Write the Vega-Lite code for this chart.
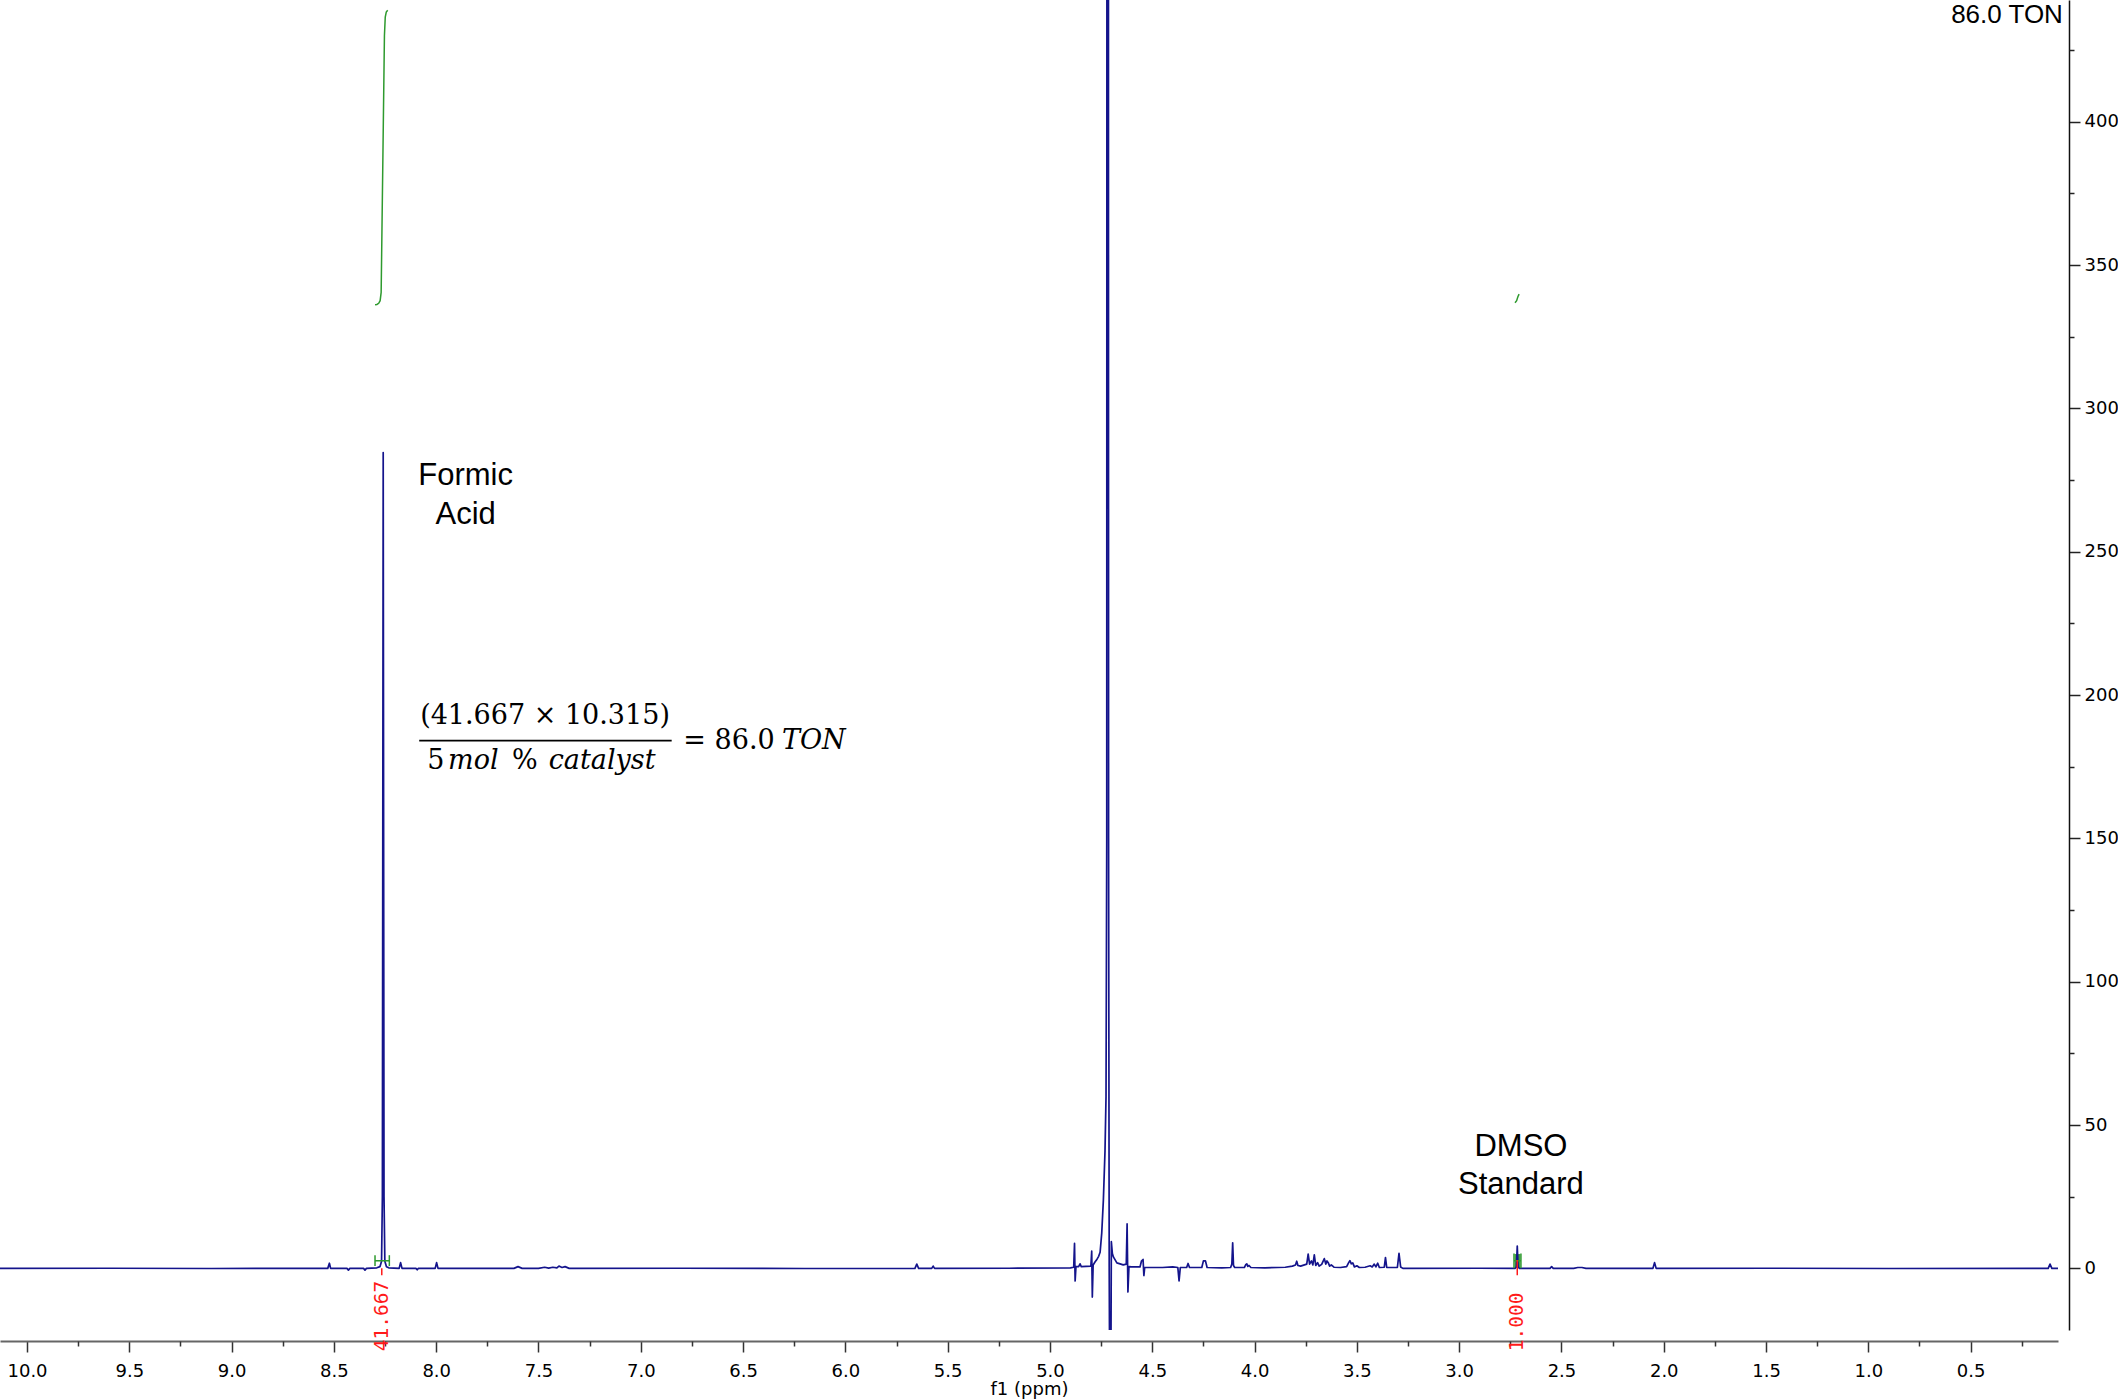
{
  "$schema": "https://vega.github.io/schema/vega-lite/v6.json",
  "width": 2058,
  "height": 1330,
  "autosize": {"type": "none"},
  "padding": {"left": 0, "top": 0, "right": 60, "bottom": 70},
  "background": "white",
  "config": {
    "view": {"stroke": null},
    "axis": {"grid": false, "labelFont": "DejaVu Sans", "labelFontSize": 18, "labelColor": "#000", "labelOverlap": false, "labelFlush": false}
  },
  "datasets": {
    "spectrum": [
      {"ppm": 10.132, "v": 0}, {"ppm": 9.6, "v": 0.05}, {"ppm": 9.1, "v": -0.05}, {"ppm": 8.75, "v": 0},
      {"ppm": 8.53, "v": 0}, {"ppm": 8.522, "v": 1.8}, {"ppm": 8.516, "v": 0},
      {"ppm": 8.436, "v": 0}, {"ppm": 8.429, "v": -0.6}, {"ppm": 8.422, "v": 0},
      {"ppm": 8.355, "v": 0}, {"ppm": 8.348, "v": -0.6}, {"ppm": 8.341, "v": 0},
      {"ppm": 8.29, "v": 0.2}, {"ppm": 8.275, "v": 0.6}, {"ppm": 8.267, "v": 2.5}, {"ppm": 8.263, "v": 25},
      {"ppm": 8.259, "v": 284.6}, {"ppm": 8.255, "v": 25}, {"ppm": 8.251, "v": 2.5}, {"ppm": 8.243, "v": 0.6}, {"ppm": 8.232, "v": 0.2},
      {"ppm": 8.181, "v": 0}, {"ppm": 8.174, "v": 2.0}, {"ppm": 8.167, "v": 0},
      {"ppm": 8.099, "v": 0}, {"ppm": 8.093, "v": -0.5}, {"ppm": 8.087, "v": 0},
      {"ppm": 8.005, "v": 0}, {"ppm": 7.998, "v": 2.0}, {"ppm": 7.991, "v": 0},
      {"ppm": 7.62, "v": 0}, {"ppm": 7.6, "v": 0.6}, {"ppm": 7.58, "v": 0},
      {"ppm": 7.5, "v": 0}, {"ppm": 7.47, "v": 0.4}, {"ppm": 7.45, "v": 0.1}, {"ppm": 7.43, "v": 0.4}, {"ppm": 7.41, "v": 0.2}, {"ppm": 7.4, "v": 0.8}, {"ppm": 7.385, "v": 0.3}, {"ppm": 7.37, "v": 0.6}, {"ppm": 7.35, "v": 0},
      {"ppm": 6.8, "v": 0.05}, {"ppm": 6.2, "v": -0.05},
      {"ppm": 5.66, "v": 0}, {"ppm": 5.651, "v": 1.5}, {"ppm": 5.642, "v": 0},
      {"ppm": 5.578, "v": 0}, {"ppm": 5.571, "v": 0.8}, {"ppm": 5.564, "v": 0},
      {"ppm": 5.2, "v": 0.05}, {"ppm": 4.9, "v": 0.2},
      {"ppm": 4.884, "v": 0.4}, {"ppm": 4.88, "v": 8.7}, {"ppm": 4.877, "v": -4.4}, {"ppm": 4.873, "v": 0.6},
      {"ppm": 4.86, "v": 0.6}, {"ppm": 4.853, "v": 1.6}, {"ppm": 4.847, "v": 0.6},
      {"ppm": 4.8, "v": 0.8}, {"ppm": 4.796, "v": 6.0}, {"ppm": 4.793, "v": -10.0}, {"ppm": 4.789, "v": 1.2},
      {"ppm": 4.78, "v": 2.2}, {"ppm": 4.77, "v": 3.2}, {"ppm": 4.762, "v": 4.2}, {"ppm": 4.755, "v": 5.6},
      {"ppm": 4.747, "v": 12.3}, {"ppm": 4.739, "v": 23.8}, {"ppm": 4.731, "v": 41}, {"ppm": 4.726, "v": 60},
      {"ppm": 4.7225, "v": 150}, {"ppm": 4.7205, "v": 1000}, {"ppm": 4.7155, "v": 1000}, {"ppm": 4.7135, "v": 150},
      {"ppm": 4.7105, "v": 0}, {"ppm": 4.707, "v": -60}, {"ppm": 4.7035, "v": -60},
      {"ppm": 4.7, "v": 9.3}, {"ppm": 4.695, "v": 5.2}, {"ppm": 4.69, "v": 4.0}, {"ppm": 4.673, "v": 1.9},
      {"ppm": 4.642, "v": 1.2}, {"ppm": 4.627, "v": 1.5}, {"ppm": 4.623, "v": 15.5}, {"ppm": 4.619, "v": -8.2}, {"ppm": 4.614, "v": 0.6},
      {"ppm": 4.6, "v": 0.5}, {"ppm": 4.56, "v": 0.5}, {"ppm": 4.553, "v": 2.5}, {"ppm": 4.545, "v": 3.1}, {"ppm": 4.541, "v": -2.5}, {"ppm": 4.537, "v": 0.3},
      {"ppm": 4.45, "v": 0.3}, {"ppm": 4.4, "v": 0.5},
      {"ppm": 4.375, "v": 0.3}, {"ppm": 4.369, "v": -4.4}, {"ppm": 4.363, "v": 0.3},
      {"ppm": 4.332, "v": 0.3}, {"ppm": 4.325, "v": 1.7}, {"ppm": 4.318, "v": 0.3},
      {"ppm": 4.258, "v": 0.3}, {"ppm": 4.25, "v": 2.6}, {"ppm": 4.24, "v": 2.6}, {"ppm": 4.232, "v": 0.3},
      {"ppm": 4.16, "v": 0.2}, {"ppm": 4.117, "v": 0.3}, {"ppm": 4.111, "v": 1.5}, {"ppm": 4.107, "v": 8.9}, {"ppm": 4.103, "v": 1.0}, {"ppm": 4.097, "v": 0.3},
      {"ppm": 4.05, "v": 0.3}, {"ppm": 4.043, "v": 1.3}, {"ppm": 4.038, "v": 1.6}, {"ppm": 4.033, "v": 0.7}, {"ppm": 4.027, "v": 1.0}, {"ppm": 4.018, "v": 0.3},
      {"ppm": 3.95, "v": 0.2}, {"ppm": 3.85, "v": 0.4}, {"ppm": 3.815, "v": 0.8}, {"ppm": 3.8, "v": 1.2}, {"ppm": 3.794, "v": 2.5}, {"ppm": 3.788, "v": 1.0},
      {"ppm": 3.775, "v": 0.8}, {"ppm": 3.745, "v": 1.5}, {"ppm": 3.738, "v": 5.0}, {"ppm": 3.731, "v": 1.5}, {"ppm": 3.722, "v": 2.6}, {"ppm": 3.715, "v": 1.2},
      {"ppm": 3.708, "v": 4.7}, {"ppm": 3.701, "v": 1.0}, {"ppm": 3.692, "v": 2.0}, {"ppm": 3.684, "v": 0.8}, {"ppm": 3.672, "v": 1.4}, {"ppm": 3.659, "v": 3.4},
      {"ppm": 3.652, "v": 1.5}, {"ppm": 3.646, "v": 2.6}, {"ppm": 3.64, "v": 2.0}, {"ppm": 3.633, "v": 0.8}, {"ppm": 3.625, "v": 1.2}, {"ppm": 3.612, "v": 0.4},
      {"ppm": 3.58, "v": 0.3}, {"ppm": 3.55, "v": 0.6}, {"ppm": 3.54, "v": 2.0}, {"ppm": 3.534, "v": 2.7}, {"ppm": 3.527, "v": 1.6}, {"ppm": 3.52, "v": 1.9},
      {"ppm": 3.512, "v": 0.5}, {"ppm": 3.5, "v": 0.9}, {"ppm": 3.488, "v": 0.3}, {"ppm": 3.46, "v": 0.4}, {"ppm": 3.435, "v": 0.9}, {"ppm": 3.425, "v": 0.5},
      {"ppm": 3.415, "v": 1.5}, {"ppm": 3.407, "v": 0.5}, {"ppm": 3.398, "v": 1.8}, {"ppm": 3.39, "v": 0.3},
      {"ppm": 3.366, "v": 0.4}, {"ppm": 3.36, "v": 3.8}, {"ppm": 3.354, "v": 0.3},
      {"ppm": 3.302, "v": 0.3}, {"ppm": 3.294, "v": 5.2}, {"ppm": 3.286, "v": 0.5}, {"ppm": 3.275, "v": 0},
      {"ppm": 2.9, "v": 0.05},
      {"ppm": 2.726, "v": 0}, {"ppm": 2.72, "v": 0.6}, {"ppm": 2.716, "v": 7.8}, {"ppm": 2.712, "v": 0.6}, {"ppm": 2.706, "v": 0},
      {"ppm": 2.556, "v": 0}, {"ppm": 2.548, "v": 0.6}, {"ppm": 2.54, "v": 0},
      {"ppm": 2.44, "v": 0}, {"ppm": 2.42, "v": 0.3}, {"ppm": 2.4, "v": 0.3}, {"ppm": 2.38, "v": 0},
      {"ppm": 2.053, "v": 0}, {"ppm": 2.045, "v": 2.0}, {"ppm": 2.037, "v": 0},
      {"ppm": 1.5, "v": 0.05}, {"ppm": 0.9, "v": -0.05},
      {"ppm": 0.121, "v": 0}, {"ppm": 0.112, "v": 1.5}, {"ppm": 0.103, "v": 0}, {"ppm": 0.073, "v": 0}
    ],
    "integrals": [
      {"peak": "formic", "ppm": 8.299, "v": 336.2}, {"peak": "formic", "ppm": 8.29, "v": 336.3},
      {"peak": "formic", "ppm": 8.281, "v": 336.7}, {"peak": "formic", "ppm": 8.274, "v": 337.6},
      {"peak": "formic", "ppm": 8.269, "v": 340.5}, {"peak": "formic", "ppm": 8.261, "v": 385},
      {"peak": "formic", "ppm": 8.253, "v": 430}, {"peak": "formic", "ppm": 8.249, "v": 436.5},
      {"peak": "formic", "ppm": 8.244, "v": 438.3}, {"peak": "formic", "ppm": 8.237, "v": 438.9},
      {"peak": "dmso", "ppm": 2.727, "v": 336.9}, {"peak": "dmso", "ppm": 2.719, "v": 337.6},
      {"peak": "dmso", "ppm": 2.713, "v": 339.0}, {"peak": "dmso", "ppm": 2.707, "v": 339.9}
    ],
    "brackets": [
      {"ppm": 8.299, "ppm2": 8.229, "v": 2.65, "v2": 2.65},
      {"ppm": 8.299, "ppm2": 8.299, "v": 0.8, "v2": 4.6},
      {"ppm": 8.229, "ppm2": 8.229, "v": 0.8, "v2": 4.6},
      {"ppm": 2.732, "ppm2": 2.698, "v": 2.65, "v2": 2.65},
      {"ppm": 2.732, "ppm2": 2.732, "v": 0, "v2": 5.2},
      {"ppm": 2.698, "ppm2": 2.698, "v": 0, "v2": 5.2}
    ],
    "dmsoRegion": [
      {"ppm": 2.729, "ppm2": 2.701, "v": 0.2, "v2": 5.0}
    ],
    "integralValues": [
      {"ppm": 8.266, "v": 0, "v2": -2.4, "label": "41.667"},
      {"ppm": 2.716, "v": 2.9, "v2": -2.4, "label": "1.000"}
    ],
    "peakNames": [
      {"t": "Formic", "ppm": 7.856, "v": 273.3},
      {"t": "Acid", "ppm": 7.856, "v": 259.7},
      {"t": "DMSO", "ppm": 2.698, "v": 39.2},
      {"t": "Standard", "ppm": 2.698, "v": 25.9}
    ],
    "formulaCentered": [
      {"t": "(41.667 × 10.315)", "ppm": 7.468, "v": 189.9}
    ],
    "formulaUpright": [
      {"t": "5", "ppm": 8.0435, "v": 174.1},
      {"t": "%", "ppm": 7.63, "v": 174.1},
      {"t": "= 86.0", "ppm": 6.792, "v": 181.2}
    ],
    "formulaItalic": [
      {"t": "mol", "ppm": 7.942, "v": 174.1},
      {"t": "catalyst", "ppm": 7.45, "v": 174.1},
      {"t": "TON", "ppm": 6.31, "v": 181.2}
    ]
  },
  "layer": [
    {
      "data": {"name": "dmsoRegion"},
      "mark": {"type": "rect", "color": "#2e9a2e", "opacity": 0.9},
      "encoding": {
        "x": {"field": "ppm", "type": "quantitative", "axis": null},
        "x2": {"field": "ppm2"},
        "y": {"field": "v", "type": "quantitative", "axis": null},
        "y2": {"field": "v2"}
      }
    },
    {
      "data": {"name": "spectrum"},
      "mark": {"type": "line", "color": "#14148c", "strokeWidth": 1.7, "strokeJoin": "round", "clip": true},
      "encoding": {
        "x": {
          "field": "ppm", "type": "quantitative",
          "scale": {"domain": [0.073, 10.132], "reverse": true, "nice": false, "zero": false},
          "axis": {
            "orient": "bottom", "offset": 11, "values": [0.5, 1.0, 1.5, 2.0, 2.5, 3.0, 3.5, 4.0, 4.5, 5.0, 5.5, 6.0, 6.5, 7.0, 7.5, 8.0, 8.5, 9.0, 9.5, 10.0],
            "format": ".1f", "tickSize": 11, "tickWidth": 1.5, "tickColor": "#333", "labelPadding": 10,
            "domainColor": "#666", "domainWidth": 2,
            "title": "f1 (ppm)", "titleFont": "DejaVu Sans", "titleFontSize": 18, "titleFontWeight": "normal", "titleColor": "#000", "titlePadding": 0
          }
        },
        "y": {
          "field": "v", "type": "quantitative",
          "scale": {"domain": [-21.5, 442.5], "nice": false, "zero": false},
          "axis": {
            "orient": "right", "offset": 11, "values": [0, 50, 100, 150, 200, 250, 300, 350, 400],
            "tickSize": 11, "tickWidth": 1.5, "tickColor": "#222", "labelPadding": 4,
            "domainColor": "#111", "domainWidth": 1.5, "title": null
          }
        }
      }
    },
    {
      "data": {"name": "integrals"},
      "mark": {"type": "line", "color": "#2e9a2e", "strokeWidth": 1.5},
      "encoding": {
        "x": {
          "field": "ppm", "type": "quantitative",
          "axis": {
            "orient": "bottom", "offset": 11, "values": [0.25, 0.75, 1.25, 1.75, 2.25, 2.75, 3.25, 3.75, 4.25, 4.75, 5.25, 5.75, 6.25, 6.75, 7.25, 7.75, 8.25, 8.75, 9.25, 9.75],
            "tickSize": 5, "tickWidth": 1.5, "tickColor": "#333", "labels": false, "domain": false, "title": null
          }
        },
        "y": {
          "field": "v", "type": "quantitative",
          "axis": {
            "orient": "right", "offset": 11, "values": [25, 75, 125, 175, 225, 275, 325, 375, 425],
            "tickSize": 5, "tickWidth": 1.5, "tickColor": "#222", "labels": false, "domain": false, "title": null
          }
        },
        "detail": {"field": "peak"}
      }
    },
    {
      "data": {"name": "brackets"},
      "mark": {"type": "rule", "color": "#2e9a2e", "strokeWidth": 1.5},
      "encoding": {
        "x": {"field": "ppm", "type": "quantitative", "axis": null},
        "x2": {"field": "ppm2"},
        "y": {"field": "v", "type": "quantitative", "axis": null},
        "y2": {"field": "v2"}
      }
    },
    {
      "data": {"name": "integralValues"},
      "mark": {"type": "rule", "color": "#ff1a1a", "strokeWidth": 1.5},
      "encoding": {
        "x": {"field": "ppm", "type": "quantitative", "axis": null},
        "y": {"field": "v", "type": "quantitative", "axis": null},
        "y2": {"field": "v2"}
      }
    },
    {
      "data": {"name": "integralValues"},
      "mark": {"type": "text", "color": "#ff1a1a", "font": "DejaVu Sans Mono", "fontSize": 19.5, "angle": 270, "align": "left", "baseline": "middle"},
      "encoding": {
        "x": {"field": "ppm", "type": "quantitative", "axis": null},
        "y": {"datum": -28.9, "type": "quantitative", "axis": null},
        "text": {"field": "label"}
      }
    },
    {
      "data": {"name": "peakNames"},
      "mark": {"type": "text", "color": "#000", "font": "Liberation Sans", "fontSize": 31, "align": "center", "baseline": "alphabetic"},
      "encoding": {
        "x": {"field": "ppm", "type": "quantitative", "axis": null},
        "y": {"field": "v", "type": "quantitative", "axis": null},
        "text": {"field": "t"}
      }
    },
    {
      "data": {"values": [{"t": "86.0 TON"}]},
      "mark": {"type": "text", "color": "#000", "font": "Liberation Sans", "fontSize": 26, "align": "right", "baseline": "alphabetic"},
      "encoding": {
        "x": {"datum": 0.049, "type": "quantitative", "axis": null},
        "y": {"datum": 434.6, "type": "quantitative", "axis": null},
        "text": {"field": "t"}
      }
    },
    {
      "data": {"values": [{"from": 8.083, "to": 6.849, "v": 184.1}]},
      "mark": {"type": "rule", "color": "#000", "strokeWidth": 1.7},
      "encoding": {
        "x": {"field": "from", "type": "quantitative", "axis": null},
        "x2": {"field": "to"},
        "y": {"field": "v", "type": "quantitative", "axis": null}
      }
    },
    {
      "data": {"name": "formulaCentered"},
      "mark": {"type": "text", "color": "#000", "font": "DejaVu Serif", "fontSize": 27, "align": "center", "baseline": "alphabetic"},
      "encoding": {
        "x": {"field": "ppm", "type": "quantitative", "axis": null},
        "y": {"field": "v", "type": "quantitative", "axis": null},
        "text": {"field": "t"}
      }
    },
    {
      "data": {"name": "formulaUpright"},
      "mark": {"type": "text", "color": "#000", "font": "DejaVu Serif", "fontSize": 27, "align": "left", "baseline": "alphabetic"},
      "encoding": {
        "x": {"field": "ppm", "type": "quantitative", "axis": null},
        "y": {"field": "v", "type": "quantitative", "axis": null},
        "text": {"field": "t"}
      }
    },
    {
      "data": {"name": "formulaItalic"},
      "mark": {"type": "text", "color": "#000", "font": "DejaVu Serif", "fontSize": 27, "fontStyle": "italic", "align": "left", "baseline": "alphabetic"},
      "encoding": {
        "x": {"field": "ppm", "type": "quantitative", "axis": null},
        "y": {"field": "v", "type": "quantitative", "axis": null},
        "text": {"field": "t"}
      }
    }
  ],
  "resolve": {"axis": {"x": "independent", "y": "independent"}}
}
